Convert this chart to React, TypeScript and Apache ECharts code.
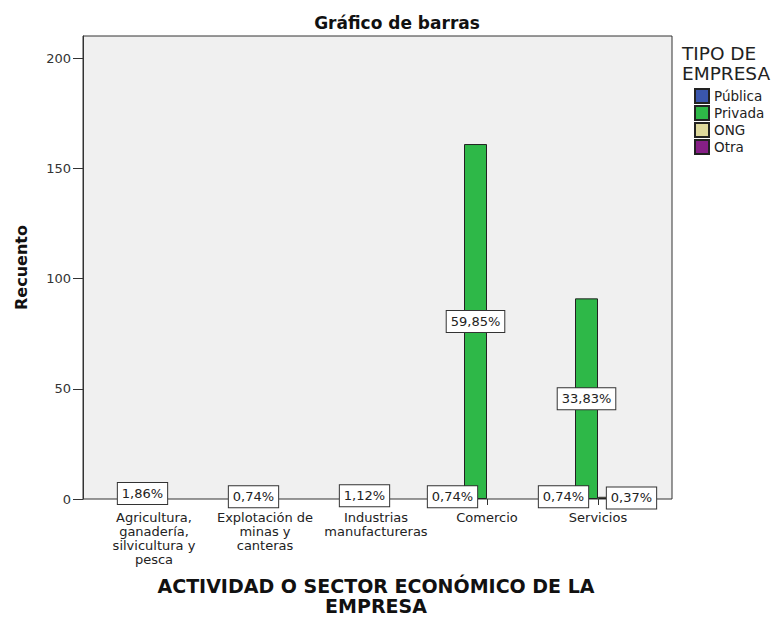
import React, { useEffect, useRef } from "react";
import * as echarts from "echarts";

const categories = [
  "Agricultura,\nganadería,\nsilvicultura y\npesca",
  "Explotación de\nminas y\ncanteras",
  "Industrias\nmanufactureras",
  "Comercio",
  "Servicios",
];
const seriesNames = ["Pública", "Privada", "ONG", "Otra"];
const publica = [null, null, null, 2, 2];
const privada = [5, 2, 3, 161, 91];
const ong = [null, null, null, null, 1];
const otra = [null, null, null, null, null];
const publicaPct = [null, null, null, "0,74%", "0,74%"];
const privadaPct = ["1,86%", "0,74%", "1,12%", "59,85%", "33,83%"];
const ongPct = [null, null, null, null, "0,37%"];
const otraPct = [null, null, null, null, null];
const yTicks = [0, 50, 100, 150, 200];
const colors = ["#3a56ad", "#2eb848", "#ddd89c", "#861f86"];

const FONT = "'DejaVu Sans', sans-serif";

export default function App() {
  const ref = useRef<HTMLDivElement>(null);
  useEffect(() => {
    document.body.style.margin = "0";
    const chart = echarts.init(ref.current!, null, { renderer: "svg" });
    const values = [publica, privada, ong, otra];
    const pcts = [publicaPct, privadaPct, ongPct, otraPct];
    const labelCommon = {
      show: true,
      position: "inside",
      backgroundColor: "#fff",
      borderColor: "#333",
      borderWidth: 1,
      padding: [4, 4, 3, 4],
      lineHeight: 14,
      fontSize: 13,
      color: "#222",
      fontFamily: FONT,
    };
    const series = values.map((vals, si) => ({
      name: seriesNames[si],
      type: "bar",
      xAxisIndex: 1,
      yAxisIndex: 1,
      barWidth: 23,
      barGap: "0%",
      itemStyle: { color: colors[si], borderColor: "#222", borderWidth: 1 },
      data: vals.map((v, i) => {
        if (v === null) return null;
        const lbl: any = { ...labelCommon, formatter: pcts[si][i] as string };
        if (si === 2 && i === 4) lbl.offset = [22, 0];
        return { value: v, label: lbl };
      }),
    }));
    chart.setOption({
      animation: false,
      textStyle: { fontFamily: FONT },
      title: {
        text: "Gráfico de barras",
        left: 392,
        textAlign: "center",
        top: 9,
        textStyle: { fontSize: 17, fontWeight: "bold", color: "#111", fontFamily: FONT },
      },
      legend: {
        orient: "vertical",
        left: 694,
        top: 88,
        itemWidth: 14,
        itemHeight: 14,
        itemGap: 1,
        padding: 0,
        icon: "rect",
        data: seriesNames,
        textStyle: { fontSize: 13.5, lineHeight: 14, color: "#222", fontFamily: FONT },
      },
      graphic: [
        {
          type: "text",
          left: 682,
          top: 43,
          style: {
            text: "TIPO DE\nEMPRESA",
            align: "center",
            fontSize: 18.5,
            lineHeight: 20,
            fill: "#222",
            fontFamily: FONT,
          },
        },
      ],
      grid: [
        {
          left: 83,
          top: 36,
          width: 589,
          height: 463,
          show: true,
          backgroundColor: "#f0f0f0",
          borderColor: "#333",
          borderWidth: 1,
          outerBoundsMode: "none",
          containLabel: false,
        },
        { left: 98.5, top: 36, width: 555, height: 463, outerBoundsMode: "none", containLabel: false },
      ],
      xAxis: [
        { type: "value", gridIndex: 0, show: false, min: 0, max: 1 },
        {
          type: "category",
          gridIndex: 1,
          data: categories,
          axisLine: { show: false },
          axisTick: { show: true, alignWithLabel: true, length: 6, lineStyle: { color: "#333" } },
          axisLabel: {
            interval: 0,
            fontSize: 13,
            lineHeight: 14,
            margin: 11,
            color: "#222",
            fontFamily: FONT,
          },
          name: "ACTIVIDAD O SECTOR ECONÓMICO DE LA\nEMPRESA",
          nameLocation: "middle",
          nameGap: 77,
          nameTextStyle: {
            fontSize: 19,
            fontWeight: "bold",
            lineHeight: 20,
            color: "#111",
            fontFamily: FONT,
          },
        },
      ],
      yAxis: [
        {
          type: "value",
          gridIndex: 0,
          min: 0,
          max: 210,
          interval: 50,
          splitLine: { show: false },
          axisLine: { show: true, lineStyle: { color: "#333" } },
          axisTick: { show: true, length: 10, lineStyle: { color: "#333" }, customValues: yTicks },
          axisLabel: { fontSize: 13, color: "#333", margin: 12, customValues: yTicks, fontFamily: FONT },
          name: "Recuento",
          nameLocation: "middle",
          nameGap: 54,
          nameTextStyle: { fontSize: 16, fontWeight: "bold", color: "#111", fontFamily: FONT },
        },
        { type: "value", gridIndex: 1, min: 0, max: 210, show: false },
      ],
      series,
    });
    return () => chart.dispose();
  }, []);
  return <div ref={ref} style={{ width: 777, height: 617 }} />;
}
